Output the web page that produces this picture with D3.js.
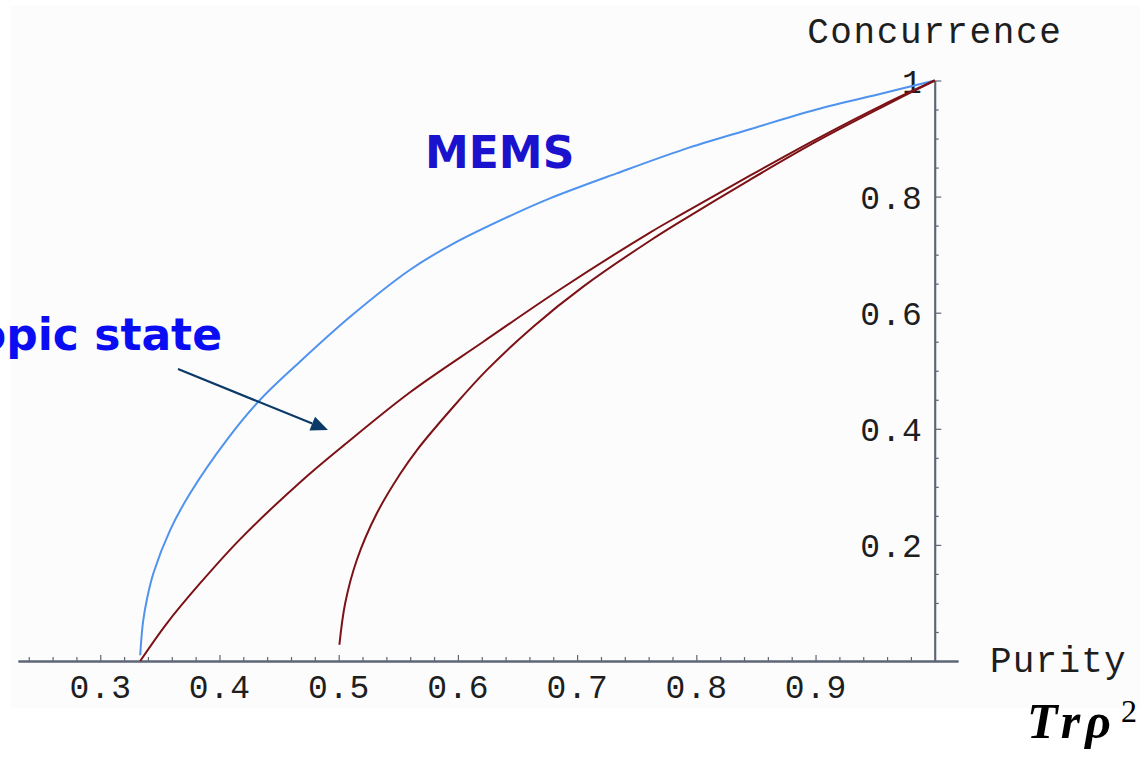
<!DOCTYPE html>
<html>
<head>
<meta charset="utf-8">
<script src="https://cdn.jsdelivr.net/npm/d3@7"></script>
<style>
	body { margin: 0; background: #ffffff; }
	#content { width: 1140px; height: 760px; }
</style>
</head>
<body>
<div id="content"></div>
<script>

// Purity (Tr rho^2) vs concurrence
var memsPurity = [0.3335, 0.3358, 0.3391, 0.3447, 0.3587, 0.3754, 0.4062, 0.4341, 0.4677, 0.5096,
	0.5599, 0.5962, 0.6493, 0.6772, 0.7331, 0.7890, 0.8449, 0.9008, 0.9566, 1.0];
var memsConc = [0.010, 0.066, 0.106, 0.152, 0.226, 0.289, 0.381, 0.450, 0.516, 0.593,
	0.674, 0.719, 0.772, 0.797, 0.840, 0.881, 0.916, 0.950, 0.978, 1.0];

var wernerPurity = [0.3335, 0.3559, 0.3838, 0.4174, 0.4677, 0.5040, 0.5599, 0.6213, 0.6856, 0.7611,
	0.7890, 0.8449, 0.9008, 0.9566, 1.0];
var wernerConc = [0.0, 0.065, 0.134, 0.210, 0.308, 0.371, 0.463, 0.550, 0.640, 0.738,
	0.771, 0.836, 0.899, 0.958, 1.0];

var otherPurity = [0.5006, 0.5054, 0.5152, 0.5319, 0.5515, 0.5655, 0.5962, 0.6242, 0.6632, 0.7051,
	0.7611, 0.7890, 0.8449, 0.9008, 0.9566, 1.0];
var otherConc = [0.028, 0.099, 0.174, 0.254, 0.322, 0.363, 0.438, 0.501, 0.576, 0.645,
	0.724, 0.760, 0.829, 0.895, 0.955, 1.0];

var xMajorTicks = [0.3, 0.4, 0.5, 0.6, 0.7, 0.8, 0.9];
var xMinorTicks = [0.24, 0.26, 0.28, 0.32, 0.34, 0.36, 0.38, 0.42, 0.44, 0.46, 0.48, 0.52, 0.54, 0.56, 0.58,
	0.62, 0.64, 0.66, 0.68, 0.72, 0.74, 0.76, 0.78, 0.82, 0.84, 0.86, 0.88, 0.92, 0.94, 0.96, 0.98];
var yMajorTicks = [0.2, 0.4, 0.6, 0.8, 1.0];
var yMinorTicks = [0.05, 0.1, 0.15, 0.25, 0.3, 0.35, 0.45, 0.5, 0.55, 0.65, 0.7, 0.75, 0.85, 0.9, 0.95];

var xDomain = [0.231, 1.0195];
var yDomain = [0, 1];

function main() {
	var svg = d3.select("#content")
		.append("svg")
		.attr("width", 1140)
		.attr("height", 760);

	// light panel behind the plot
	svg.append("rect")
		.attr("x", 10).attr("y", 6)
		.attr("width", 1130).attr("height", 702)
		.attr("fill", "#fcfcfc");

	var x = d3.scaleLinear().domain(xDomain).range([18, 958]);
	var y = d3.scaleLinear().domain(yDomain).range([661, 80.5]);

	drawAxes(svg, x, y);
	drawCurves(svg, x, y);
	drawLabels(svg);
}

function drawAxes(svg, x, y) {
	var axisColor = "#5f6675";
	var monoFont = "'Liberation Mono', 'DejaVu Sans Mono', monospace";

	// x axis: ticks point up, labels below
	var xMinor = svg.append("g")
		.attr("transform", "translate(0,661)")
		.call(d3.axisBottom(x).tickValues(xMinorTicks).tickSizeInner(-4).tickSizeOuter(0).tickFormat(""));
	var xMajor = svg.append("g")
		.attr("transform", "translate(0,661)")
		.call(d3.axisBottom(x).tickValues(xMajorTicks).tickSizeInner(-6).tickSizeOuter(0)
			.tickFormat(d3.format(".1f")));

	// y axis at purity = 1, ticks point right, labels left
	var yFmt = function (d) { return d === 1 ? "1" : d3.format(".1f")(d); };
	var yMinor = svg.append("g")
		.attr("transform", "translate(" + x(1) + ",0)")
		.call(d3.axisLeft(y).tickValues(yMinorTicks).tickSizeInner(-4).tickSizeOuter(0).tickFormat(""));
	var yMajor = svg.append("g")
		.attr("transform", "translate(" + x(1) + ",0)")
		.call(d3.axisLeft(y).tickValues(yMajorTicks).tickSizeInner(-6.5).tickSizeOuter(0).tickFormat(yFmt));

	[xMinor, xMajor, yMinor, yMajor].forEach(function (g) {
		g.select(".domain").attr("stroke", axisColor).attr("stroke-width", 1.8);
		g.selectAll(".tick line").attr("stroke", axisColor).attr("stroke-width", 1.2);
	});

	xMajor.selectAll(".tick text")
		.attr("y", 25)
		.attr("dy", "0.35em")
		.attr("fill", "#1e1e1e")
		.style("font-family", monoFont)
		.style("font-size", "33px")
		.style("letter-spacing", "1px");

	yMajor.selectAll(".tick text")
		.attr("x", -12)
		.attr("dy", "0.35em")
		.attr("fill", "#1e1e1e")
		.style("font-family", monoFont)
		.style("font-size", "33px")
		.style("letter-spacing", "1px");

	// axis titles
	svg.append("text")
		.attr("x", x(1)).attr("y", 43)
		.attr("text-anchor", "middle")
		.attr("fill", "#1e1e1e")
		.style("font-family", monoFont)
		.style("font-size", "36px")
		.style("letter-spacing", "1.6px")
		.text("Concurrence");

	svg.append("text")
		.attr("x", 990).attr("y", 672)
		.attr("fill", "#1e1e1e")
		.style("font-family", monoFont)
		.style("font-size", "36px")
		.style("letter-spacing", "1.2px")
		.text("Purity");
}

function drawCurves(svg, x, y) {
	var line = d3.line()
		.curve(d3.curveCatmullRom.alpha(0.5))
		.x(function (d) { return x(d[0]); })
		.y(function (d) { return y(d[1]); });

	var series = [
		{ px: memsPurity, cy: memsConc, color: "#4f93ee" },
		{ px: wernerPurity, cy: wernerConc, color: "#7c1216" },
		{ px: otherPurity, cy: otherConc, color: "#7c1216" }
	];

	svg.append("g").selectAll("path")
		.data(series)
		.enter()
		.append("path")
		.attr("fill", "none")
		.attr("stroke", function (d) { return d.color; })
		.attr("stroke-width", 2)
		.attr("stroke-linejoin", "round")
		.attr("d", function (d) { return line(d3.zip(d.px, d.cy)); });
}

function drawLabels(svg) {
	var labelFont = "'Comic Sans MS', 'DejaVu Sans', sans-serif";

	svg.append("text")
		.attr("x", 425).attr("y", 168)
		.attr("fill", "#1a12cc")
		.style("font-family", labelFont)
		.style("font-weight", "bold")
		.style("font-size", "44px")
		.text("MEMS");

	// label is cut by the left edge in the original too
	svg.append("text")
		.attr("x", 222).attr("y", 350)
		.attr("text-anchor", "end")
		.attr("fill", "#0a0cf2")
		.style("font-family", labelFont)
		.style("font-weight", "bold")
		.style("font-size", "44px")
		.text("opic state");

	// arrow towards the Werner curve
	var x0 = 178, y0 = 369, x1 = 328, y1 = 430;
	var len = Math.hypot(x1 - x0, y1 - y0);
	var ux = (x1 - x0) / len, uy = (y1 - y0) / len;
	var head = 17, half = 7.5;
	var bx = x1 - ux * head, by = y1 - uy * head;
	var arrowColor = "#0b3a68";

	svg.append("line")
		.attr("x1", x0).attr("y1", y0)
		.attr("x2", bx).attr("y2", by)
		.attr("stroke", arrowColor)
		.attr("stroke-width", 2.2);

	svg.append("path")
		.attr("d", "M" + x1 + "," + y1 +
			"L" + (bx - uy * half) + "," + (by + ux * half) +
			"L" + (bx + uy * half) + "," + (by - ux * half) + "Z")
		.attr("fill", arrowColor);

	// Tr rho^2 below the purity label
	svg.append("text")
		.attr("x", 1027).attr("y", 738)
		.attr("fill", "#000000")
		.style("font-family", "'Liberation Serif', 'DejaVu Serif', serif")
		.style("font-size", "50px")
		.style("font-weight", "bold")
		.style("font-style", "italic")
		.style("letter-spacing", "5px")
		.text("Tr\u03C1");
	svg.append("text")
		.attr("x", 1121).attr("y", 722)
		.attr("fill", "#000000")
		.style("font-family", "'Liberation Serif', 'DejaVu Serif', serif")
		.style("font-size", "32px")
		.text("2");
}

(() => {
	main();
})()
</script>
</body>
</html>
